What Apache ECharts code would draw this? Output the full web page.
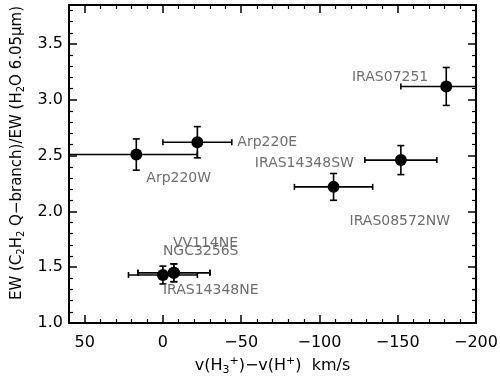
<!DOCTYPE html>
<html>
<head>
<meta charset="utf-8">
<script src="https://cdn.jsdelivr.net/npm/echarts@6/dist/echarts.min.js"></script>
<style>html,body{margin:0;padding:0;background:#fff}#c{width:500px;height:376px}</style>
</head>
<body>
<div id="c"></div>
<script>
// ---- data ----
var names      = ['Arp220W', 'Arp220E', 'IRAS07251', 'IRAS14348SW', 'IRAS08572NW', 'VV114NE', 'NGC3256S', 'IRAS14348NE'];
var velocity   = [17, -22, -181, -152, -109, -7, -7, 0];          // v(H3+)-v(H+) km/s
var ewRatio    = [2.51, 2.62, 3.12, 2.46, 2.22, 1.45, 1.45, 1.43];
var velErrNeg  = [39, 22, 29, 23, 25, 23, 23, 22];               // toward more negative velocity
var velErrPos  = [45, 22, 29, 23, 25, 23, 23, 22];               // toward more positive velocity
var ratioErr   = [0.14, 0.14, 0.17, 0.13, 0.12, 0.08, 0.08, 0.08];
var xTicks     = [50, 0, -50, -100, -150, -200];
var yTicks     = [1.0, 1.5, 2.0, 2.5, 3.0, 3.5];

// ---- label placement (pixel offsets from the point, style only) ----
var labelStyle = [
  {dx: 10, dy: 24, align: 'left'},
  {dx: 40, dy: 0, align: 'left'},
  {dx: -18, dy: -9, align: 'right'},
  {dx: -47, dy: 3, align: 'right'},
  {dx: 16, dy: 34, align: 'left'},
  {dx: -1, dy: -29, align: 'left'},
  {dx: -11, dy: -21, align: 'left'},
  {dx: 0, dy: 15, align: 'left'}
];

var X_MIN = -200, X_MAX = 60, Y_MIN = 1.0, Y_MAX = 3.85;

var points = names.map(function (n, i) { return [velocity[i], ewRatio[i]]; });
var errData = names.map(function (n, i) {
  return [velocity[i], ewRatio[i], velocity[i] - velErrNeg[i], velocity[i] + velErrPos[i],
          ewRatio[i] - ratioErr[i], ewRatio[i] + ratioErr[i]];
});
var labelData = names.map(function (n, i) { return [velocity[i], ewRatio[i], i]; });

function renderErr(params, api) {
  var x = api.value(0), y = api.value(1);
  var xl = api.value(2), xh = api.value(3), yl = api.value(4), yh = api.value(5);
  var children = [];
  var st = {stroke: '#000', lineWidth: 1.6};
  var xlc = Math.max(xl, X_MIN), xhc = Math.min(xh, X_MAX);
  var p1 = api.coord([xlc, y]), p2 = api.coord([xhc, y]);
  children.push({type: 'line', shape: {x1: p1[0], y1: p1[1], x2: p2[0], y2: p2[1]}, style: st});
  var cap = 3;
  if (xl >= X_MIN) children.push({type: 'line', shape: {x1: p1[0], y1: p1[1] - cap, x2: p1[0], y2: p1[1] + cap}, style: st});
  if (xh <= X_MAX) children.push({type: 'line', shape: {x1: p2[0], y1: p2[1] - cap, x2: p2[0], y2: p2[1] + cap}, style: st});
  var q1 = api.coord([x, yl]), q2 = api.coord([x, yh]);
  children.push({type: 'line', shape: {x1: q1[0], y1: q1[1], x2: q2[0], y2: q2[1]}, style: st});
  children.push({type: 'line', shape: {x1: q1[0] - 3.5, y1: q1[1], x2: q1[0] + 3.5, y2: q1[1]}, style: st});
  children.push({type: 'line', shape: {x1: q2[0] - 3.5, y1: q2[1], x2: q2[0] + 3.5, y2: q2[1]}, style: st});
  return {type: 'group', children: children};
}

function renderLabel(params, api) {
  var i = api.value(2);
  var p = api.coord([api.value(0), api.value(1)]);
  var s = labelStyle[i];
  return {
    type: 'text',
    x: p[0] + s.dx, y: p[1] + s.dy,
    style: {text: names[i], fill: '#6e6e6e', font: '14px "DejaVu Sans"', align: s.align, verticalAlign: 'middle'}
  };
}

var FONT = 'DejaVu Sans';
function xFmt(v) { return xTicks.indexOf(v) >= 0 ? (v < 0 ? '\u2212' + (-v) : String(v)) : ''; }
function yFmt(v) {
  for (var k = 0; k < yTicks.length; k++) if (Math.abs(yTicks[k] - v) < 1e-6) return yTicks[k].toFixed(1);
  return '';
}

var tickCommon = {show: true, inside: true, length: 8, lineStyle: {color: '#000', width: 1.5}};
var minorCommon = {show: true, splitNumber: 5, length: 4, lineStyle: {color: '#000', width: 1.2}};
var lineCommon = {show: true, onZero: false, lineStyle: {color: '#000', width: 2}};

function makeRich(fs, ss) {
  return {
    n: {fontFamily: FONT, fontSize: fs, color: '#000', lineHeight: fs + 4, verticalAlign: 'middle'},
    sub: {fontFamily: FONT, fontSize: ss, color: '#000', lineHeight: ss, verticalAlign: 'bottom'},
    sup: {fontFamily: FONT, fontSize: ss, color: '#000', lineHeight: ss, verticalAlign: 'top'}
  };
}

var chart = echarts.init(document.getElementById('c'), null, {renderer: 'canvas'});
chart.setOption({
  animation: false,
  backgroundColor: '#fff',
  grid: {left: 69, right: 24, top: 5, bottom: 53, containLabel: false, outerBoundsMode: 'none'},
  xAxis: [{
    type: 'value', inverse: true, min: X_MIN, max: X_MAX, interval: 50,
    position: 'bottom',
    axisLine: lineCommon, axisTick: tickCommon, minorTick: minorCommon,
    splitLine: {show: false},
    axisLabel: {formatter: xFmt, fontFamily: FONT, fontSize: 16, color: '#000', margin: 12},
    name: '{n|v(H}{sub|3}{sup|+}{n|)\u2212v(H}{sup|+}{n|)  km/s}',
    nameLocation: 'middle', nameGap: 24,
    nameTextStyle: {rich: makeRich(16, 11)}
  }, {
    type: 'value', inverse: true, min: X_MIN, max: X_MAX, interval: 50,
    position: 'top',
    axisLine: lineCommon, axisTick: tickCommon, minorTick: minorCommon,
    splitLine: {show: false}, axisLabel: {show: false}
  }],
  yAxis: [{
    type: 'value', min: Y_MIN, max: Y_MAX, interval: 0.5,
    position: 'left',
    axisLine: lineCommon, axisTick: tickCommon, minorTick: minorCommon,
    splitLine: {show: false},
    axisLabel: {formatter: yFmt, fontFamily: FONT, fontSize: 16, color: '#000', margin: 6},
    name: '{n|EW (C}{sub|2}{n|H}{sub|2}{n| Q\u2212branch)/EW (H}{sub|2}{n|O 6.05\u03bcm)}',
    nameLocation: 'middle', nameRotate: 90, nameGap: 42,
    nameTextStyle: {rich: makeRich(15, 10), padding: [0, 0, 0, 22]}
  }, {
    type: 'value', min: Y_MIN, max: Y_MAX, interval: 0.5,
    position: 'right',
    axisLine: lineCommon, axisTick: tickCommon, minorTick: minorCommon,
    splitLine: {show: false}, axisLabel: {show: false}
  }],
  series: [{
    type: 'custom', renderItem: renderErr, data: errData, z: 2,
    encode: {x: 0, y: 1}, clip: true, silent: true
  }, {
    type: 'scatter', data: points, symbol: 'circle', symbolSize: 12,
    itemStyle: {color: '#000', opacity: 1}, z: 3, silent: true
  }, {
    type: 'custom', renderItem: renderLabel, data: labelData, z: 4,
    encode: {x: 0, y: 1}, silent: true
  }]
});
</script>
</body>
</html>
